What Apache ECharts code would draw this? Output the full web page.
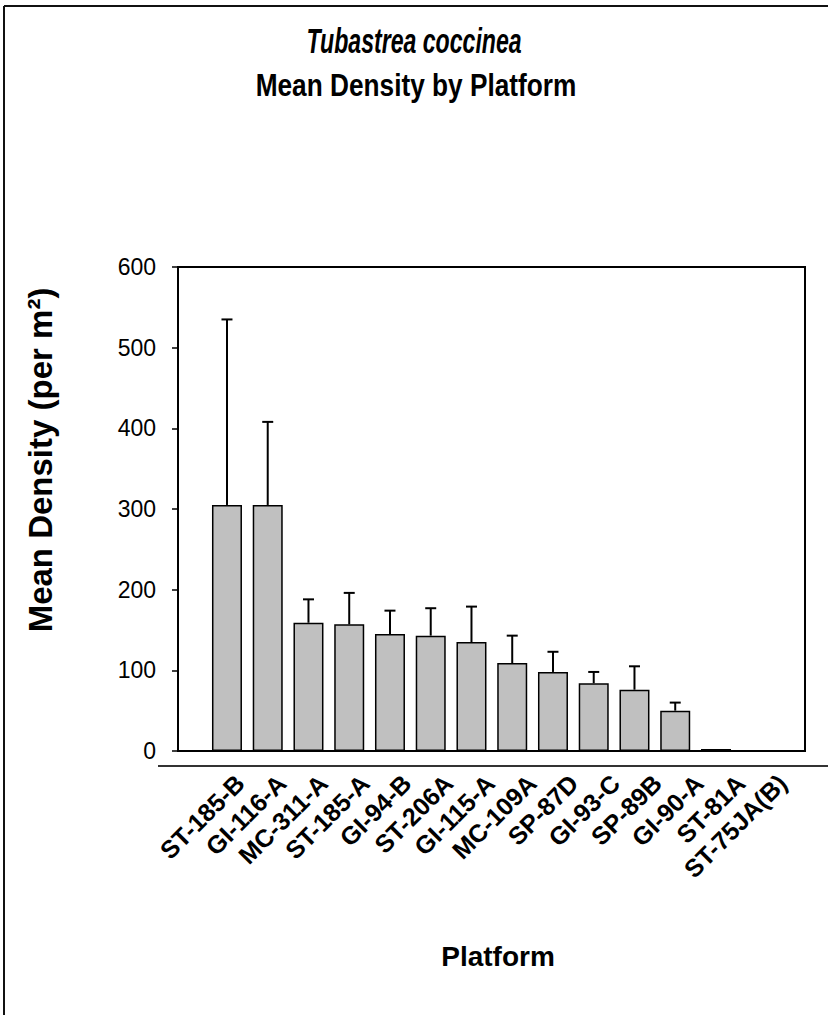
<!DOCTYPE html>
<html>
<head>
<meta charset="utf-8">
<script src="https://cdn.jsdelivr.net/npm/echarts@6/dist/echarts.min.js"></script>
<style>
  html, body { margin: 0; padding: 0; background: #fff; }
  #chart { width: 828px; height: 1015px; }
</style>
</head>
<body>
<div id="chart"></div>
<script>
// Platforms, ordered by mean density
const platforms = ['ST-185-B', 'GI-116-A', 'MC-311-A', 'ST-185-A', 'GI-94-B', 'ST-206A', 'GI-115-A',
  'MC-109A', 'SP-87D', 'GI-93-C', 'SP-89B', 'GI-90-A', 'ST-81A', 'ST-75JA(B)'];
// Mean density (per m²)
const meanDensity = [305, 305, 159, 157, 145, 143, 135, 109, 98, 84, 76, 50, 2.5, 0];
// Standard error (upper whisker only)
const stdError = [230, 103, 29, 39, 29, 34, 44, 34, 25, 14, 29, 10, 0, 0];
// Y-axis range
const yMin = 0, yMax = 600, yStep = 100;

const sans = '"Liberation Sans", Arial, sans-serif';

const chart = echarts.init(document.getElementById('chart'), null, { renderer: 'svg' });

const barData = meanDensity.map(v => v === 0 ? { value: v, itemStyle: { borderWidth: 0 } } : v);
const errData = platforms.map((p, i) => [i, meanDensity[i], meanDensity[i] + stdError[i]]);

chart.setOption({
  animation: false,
  backgroundColor: '#fff',
  grid: [
    // frame of the plot area
    { left: 178, top: 267, width: 627, height: 484, show: true, borderColor: '#000', borderWidth: 2, containLabel: false },
    // band that holds the bars
    { left: 206.6, top: 267, width: 570.5, height: 484, containLabel: false },
    // band for the slanted platform labels (slightly wider spacing)
    { left: 210.1, top: 267, width: 584.2, height: 484, containLabel: false }
  ],
  xAxis: [
    { gridIndex: 0, type: 'value', min: 0, max: 1, show: false },
    {
      gridIndex: 1, type: 'category', data: platforms,
      axisLine: { show: false }, axisTick: { show: false }, axisLabel: { show: false }
    },
    {
      gridIndex: 2, type: 'category', data: platforms,
      axisLine: { show: false }, axisTick: { show: false },
      axisLabel: {
        interval: 0, rotate: 45, margin: 19, verticalAlign: 'top',
        fontFamily: sans, fontWeight: 'bold', fontSize: 25, color: '#000'
      }
    }
  ],
  yAxis: [
    {
      gridIndex: 0, type: 'value', min: yMin, max: yMax, interval: yStep,
      axisLine: { show: true, lineStyle: { color: '#000', width: 2 } },
      axisTick: { show: true, inside: false, length: 6, lineStyle: { color: '#000', width: 1.5 } },
      axisLabel: { margin: 22, fontFamily: sans, fontSize: 23, color: '#000' },
      splitLine: { show: false }
    },
    { gridIndex: 1, type: 'value', min: yMin, max: yMax, show: false },
    { gridIndex: 2, type: 'value', min: yMin, max: yMax, show: false }
  ],
  series: [
    {
      type: 'bar', xAxisIndex: 1, yAxisIndex: 1, data: barData, barWidth: 30,
      itemStyle: { color: '#c0c0c0', borderColor: '#000', borderWidth: 1.5 }
    },
    {
      type: 'custom', xAxisIndex: 1, yAxisIndex: 1, data: errData, z: 5,
      renderItem(params, api) {
        const lo = api.value(1), hi = api.value(2);
        if (hi <= lo) return null;
        const a = api.coord([api.value(0), lo]);
        const b = api.coord([api.value(0), hi]);
        const cap = 5.5;
        const st = { stroke: '#000', lineWidth: 2 };
        return {
          type: 'group',
          children: [
            { type: 'line', shape: { x1: a[0], y1: a[1], x2: b[0], y2: b[1] }, style: st },
            { type: 'line', shape: { x1: b[0] - cap, y1: b[1], x2: b[0] + cap, y2: b[1] }, style: st }
          ]
        };
      }
    }
  ],
  graphic: [
    // page frame (left and top edges)
    { type: 'line', shape: { x1: 4, y1: 6, x2: 828, y2: 6 }, style: { stroke: '#111', lineWidth: 2 } },
    { type: 'line', shape: { x1: 4, y1: 6, x2: 4, y2: 1015 }, style: { stroke: '#111', lineWidth: 2 } },
    // rule beneath the plot
    { type: 'line', shape: { x1: 158, y1: 766, x2: 828, y2: 766 }, style: { stroke: '#333', lineWidth: 2 } },
    // two-line title, condensed
    {
      type: 'text', x: 414, y: 41, scaleX: 0.66,
      style: { text: 'Tubastrea coccinea', fontFamily: sans, fontWeight: 'bold', fontStyle: 'italic',
        fontSize: 35, fill: '#000', textAlign: 'center', textVerticalAlign: 'middle' }
    },
    {
      type: 'text', x: 416, y: 85, scaleX: 0.82,
      style: { text: 'Mean Density by Platform', fontFamily: sans, fontWeight: 'bold',
        fontSize: 32, fill: '#000', textAlign: 'center', textVerticalAlign: 'middle' }
    },
    {
      type: 'text', x: 40, y: 460, rotation: Math.PI / 2,
      style: { text: 'Mean Density (per m²)', fontFamily: sans, fontWeight: 'bold', fontSize: 33,
        fill: '#000', textAlign: 'center', textVerticalAlign: 'middle' }
    },
    {
      type: 'text', x: 498, y: 956,
      style: { text: 'Platform', fontFamily: sans, fontWeight: 'bold', fontSize: 28,
        fill: '#000', textAlign: 'center', textVerticalAlign: 'middle' }
    }
  ]
});
</script>
</body>
</html>
